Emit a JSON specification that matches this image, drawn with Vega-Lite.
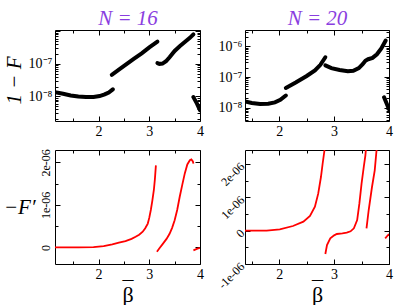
{
  "$schema": "https://vega.github.io/schema/vega-lite/v6.json",
  "padding": {"left": 2, "top": 6, "right": 2, "bottom": 2},
  "background": "white",
  "config": {
    "font": "Liberation Serif",
    "view": {"stroke": "black", "strokeWidth": 1},
    "axis": {"domain": false, "grid": false, "minExtent": 0, "labelFont": "Liberation Serif", "labelFontSize": 14, "labelColor": "black", "tickColor": "black", "tickWidth": 1, "titleFont": "Liberation Serif", "titleFontWeight": "normal", "titleColor": "black", "labelFlush": false, "labelOverlap": false, "labelBound": false},
    "axisX": {"minExtent": 0},
    "axisY": {"minExtent": 0}
  },
  "datasets": {
    "f16": [
      {"x": 1.14, "v": 1.35e-8, "s": 1}, {"x": 1.3, "v": 1.2e-8, "s": 1}, {"x": 1.45, "v": 1.07e-8, "s": 1}, {"x": 1.6, "v": 9.9e-9, "s": 1}, {"x": 1.75, "v": 9.5e-9, "s": 1}, {"x": 1.9, "v": 9.6e-9, "s": 1}, {"x": 2.02, "v": 1.02e-8, "s": 1}, {"x": 2.12, "v": 1.15e-8, "s": 1}, {"x": 2.2, "v": 1.32e-8, "s": 1}, {"x": 2.28, "v": 1.65e-8, "s": 1},
      {"x": 2.26, "v": 4.6e-8, "s": 2}, {"x": 2.4, "v": 6.6e-8, "s": 2}, {"x": 2.55, "v": 9.8e-8, "s": 2}, {"x": 2.7, "v": 1.44e-7, "s": 2}, {"x": 2.85, "v": 2.1e-7, "s": 2}, {"x": 3.0, "v": 3.2e-7, "s": 2}, {"x": 3.16, "v": 4.8e-7, "s": 2},
      {"x": 3.16, "v": 1.06e-7, "s": 3}, {"x": 3.2, "v": 1.0e-7, "s": 3}, {"x": 3.26, "v": 1.02e-7, "s": 3}, {"x": 3.33, "v": 1.2e-7, "s": 3}, {"x": 3.4, "v": 1.6e-7, "s": 3}, {"x": 3.5, "v": 2.5e-7, "s": 3}, {"x": 3.6, "v": 3.5e-7, "s": 3}, {"x": 3.7, "v": 4.7e-7, "s": 3}, {"x": 3.8, "v": 6.3e-7, "s": 3}, {"x": 3.87, "v": 8.1e-7, "s": 3},
      {"x": 3.87, "v": 9.5e-9, "s": 4}, {"x": 3.94, "v": 6e-9, "s": 4}, {"x": 4.0, "v": 3.8e-9, "s": 4}
    ],
    "f20": [
      {"x": 1.376, "v": 1.6e-8, "s": 1}, {"x": 1.5, "v": 1.42e-8, "s": 1}, {"x": 1.65, "v": 1.32e-8, "s": 1}, {"x": 1.8, "v": 1.35e-8, "s": 1}, {"x": 1.92, "v": 1.5e-8, "s": 1}, {"x": 2.02, "v": 1.8e-8, "s": 1}, {"x": 2.12, "v": 2.5e-8, "s": 1},
      {"x": 2.12, "v": 4.4e-8, "s": 2}, {"x": 2.3, "v": 6.6e-8, "s": 2}, {"x": 2.5, "v": 1.08e-7, "s": 2}, {"x": 2.65, "v": 1.65e-7, "s": 2}, {"x": 2.75, "v": 2.5e-7, "s": 2}, {"x": 2.84, "v": 4.4e-7, "s": 2},
      {"x": 2.84, "v": 2.4e-7, "s": 3}, {"x": 2.95, "v": 1.95e-7, "s": 3}, {"x": 3.1, "v": 1.7e-7, "s": 3}, {"x": 3.25, "v": 1.55e-7, "s": 3}, {"x": 3.35, "v": 1.6e-7, "s": 3}, {"x": 3.45, "v": 1.95e-7, "s": 3}, {"x": 3.52, "v": 2.6e-7, "s": 3}, {"x": 3.57, "v": 3.4e-7, "s": 3}, {"x": 3.62, "v": 3.8e-7, "s": 3}, {"x": 3.7, "v": 4.2e-7, "s": 3}, {"x": 3.78, "v": 5.5e-7, "s": 3}, {"x": 3.86, "v": 8.5e-7, "s": 3}, {"x": 3.94, "v": 1.55e-6, "s": 3},
      {"x": 3.91, "v": 2.2e-8, "s": 4}, {"x": 4.0, "v": 9e-9, "s": 4}
    ],
    "d16": [
      {"x": 1.14, "v": 0, "s": 1}, {"x": 1.6, "v": 0, "s": 1}, {"x": 1.9, "v": 5e-9, "s": 1}, {"x": 2.1, "v": 3e-8, "s": 1}, {"x": 2.27, "v": 7e-8, "s": 1}, {"x": 2.4, "v": 1.1e-7, "s": 1}, {"x": 2.53, "v": 1.5e-7, "s": 1}, {"x": 2.65, "v": 2e-7, "s": 1}, {"x": 2.73, "v": 2.5e-7, "s": 1}, {"x": 2.8, "v": 3e-7, "s": 1}, {"x": 2.87, "v": 3.7e-7, "s": 1}, {"x": 2.92, "v": 4.5e-7, "s": 1}, {"x": 2.97, "v": 5.6e-7, "s": 1}, {"x": 3.0, "v": 7e-7, "s": 1}, {"x": 3.03, "v": 8.8e-7, "s": 1}, {"x": 3.06, "v": 1.1e-6, "s": 1}, {"x": 3.09, "v": 1.35e-6, "s": 1}, {"x": 3.11, "v": 1.6e-6, "s": 1}, {"x": 3.13, "v": 1.93e-6, "s": 1},
      {"x": 3.15, "v": -1e-7, "s": 2}, {"x": 3.2, "v": -2e-8, "s": 2}, {"x": 3.27, "v": 9e-8, "s": 2}, {"x": 3.34, "v": 2e-7, "s": 2}, {"x": 3.4, "v": 3.2e-7, "s": 2}, {"x": 3.45, "v": 4.6e-7, "s": 2}, {"x": 3.5, "v": 6.4e-7, "s": 2}, {"x": 3.55, "v": 8.8e-7, "s": 2}, {"x": 3.6, "v": 1.19e-6, "s": 2}, {"x": 3.65, "v": 1.47e-6, "s": 2}, {"x": 3.7, "v": 1.74e-6, "s": 2}, {"x": 3.75, "v": 1.95e-6, "s": 2}, {"x": 3.8, "v": 2.05e-6, "s": 2}, {"x": 3.83, "v": 2.07e-6, "s": 2}, {"x": 3.86, "v": 2.02e-6, "s": 2}, {"x": 3.87, "v": 1.97e-6, "s": 2},
      {"x": 3.87, "v": -7e-8, "s": 3}, {"x": 3.95, "v": -3e-8, "s": 3}, {"x": 4.0, "v": -1e-8, "s": 3}
    ],
    "d20": [
      {"x": 1.376, "v": 0, "s": 1}, {"x": 1.77, "v": 0, "s": 1}, {"x": 2.01, "v": 4e-8, "s": 1}, {"x": 2.25, "v": 1.4e-7, "s": 1}, {"x": 2.44, "v": 2.7e-7, "s": 1}, {"x": 2.56, "v": 4.4e-7, "s": 1}, {"x": 2.65, "v": 7.2e-7, "s": 1}, {"x": 2.71, "v": 1.11e-6, "s": 1}, {"x": 2.76, "v": 1.61e-6, "s": 1}, {"x": 2.79, "v": 2.0e-6, "s": 1}, {"x": 2.82, "v": 2.36e-6, "s": 1}, {"x": 2.83, "v": 2.5e-6, "s": 1},
      {"x": 2.84, "v": -7e-7, "s": 2}, {"x": 2.87, "v": -4.3e-7, "s": 2}, {"x": 2.93, "v": -2.3e-7, "s": 2}, {"x": 3.0, "v": -1.4e-7, "s": 2}, {"x": 3.05, "v": -1e-7, "s": 2}, {"x": 3.15, "v": -8e-8, "s": 2}, {"x": 3.23, "v": -6e-8, "s": 2}, {"x": 3.3, "v": -2e-8, "s": 2}, {"x": 3.36, "v": 7e-8, "s": 2}, {"x": 3.42, "v": 3.2e-7, "s": 2}, {"x": 3.46, "v": 8.1e-7, "s": 2}, {"x": 3.5, "v": 1.41e-6, "s": 2}, {"x": 3.54, "v": 1.91e-6, "s": 2}, {"x": 3.57, "v": 2.26e-6, "s": 2}, {"x": 3.58, "v": 2.45e-6, "s": 2},
      {"x": 3.59, "v": 7e-8, "s": 3}, {"x": 3.63, "v": 6.2e-7, "s": 3}, {"x": 3.69, "v": 1.31e-6, "s": 3}, {"x": 3.74, "v": 1.81e-6, "s": 3}, {"x": 3.77, "v": 2.36e-6, "s": 3}, {"x": 3.78, "v": 2.5e-6, "s": 3},
      {"x": 3.93, "v": -2.3e-7, "s": 4}, {"x": 4.0, "v": -1e-7, "s": 4}
    ]
  },
  "columns": 2,
  "bounds": "flush",
  "spacing": {"row": 29, "column": 45},
  "concat": [
    {
      "width": 145, "height": 91,
      "data": {"name": "f16"},
      "layer": [
        {
          "mark": {"type": "line", "color": "black", "strokeWidth": 4, "strokeCap": "round", "clip": true},
          "encoding": {
            "x": {"field": "x", "type": "quantitative", "scale": {"domain": [1.14, 4.0], "nice": false, "zero": false},
                  "axis": {"orient": "bottom", "title": null, "values": [1.5, 2, 2.5, 3, 3.5, 4], "labelExpr": "datum.value % 1 != 0 ? '' : '' + datum.value", "tickSize": {"condition": {"test": "datum.value % 1 != 0", "value": -3}, "value": -5}, "labelPadding": 8}},
            "y": {"field": "v", "type": "quantitative", "scale": {"type": "log", "domain": [1.75e-9, 1.1e-6], "nice": false},
                  "axis": {"orient": "left", "values": [2e-9, 3e-9, 4e-9, 5e-9, 6e-9, 7e-9, 8e-9, 9e-9, 1e-8, 2e-8, 3e-8, 4e-8, 5e-8, 6e-8, 7e-8, 8e-8, 9e-8, 1e-7, 2e-7, 3e-7, 4e-7, 5e-7, 6e-7, 7e-7, 8e-7, 9e-7, 1e-6],
                           "labelExpr": "abs(datum.value - 1e-8) < 1e-12 ? '10⁻⁸' : (abs(datum.value - 1e-7) < 1e-11 ? '10⁻⁷' : '')",
                           "tickSize": {"condition": {"test": "abs(log(datum.value)/LN10 - round(log(datum.value)/LN10)) > 0.001", "value": -3}, "value": -5},
                           "labelPadding": 8,
                           "title": "1 − F", "titleFontSize": 21, "titleFontStyle": "italic", "titleAngle": -90, "titleX": -41, "titleY": 50, "titleAlign": "center", "titleBaseline": "middle"}},
            "detail": {"field": "s"}
          }
        },
        {
          "mark": {"type": "line", "opacity": 0, "clip": true},
          "encoding": {
            "x": {"field": "x", "type": "quantitative", "axis": {"orient": "top", "labels": false, "values": [1.5, 2, 2.5, 3, 3.5, 4], "tickSize": {"condition": {"test": "datum.value % 1 != 0", "value": -3}, "value": -5},
                  "title": "N = 16", "titleColor": "#8a3ee0", "titleFontSize": 21, "titleFontStyle": "italic", "titleX": 72.5, "titleY": -6, "titleAlign": "center", "titleBaseline": "alphabetic"}},
            "y": {"field": "v", "type": "quantitative", "axis": {"orient": "right", "title": null, "labels": false, "values": [2e-9, 3e-9, 4e-9, 5e-9, 6e-9, 7e-9, 8e-9, 9e-9, 1e-8, 2e-8, 3e-8, 4e-8, 5e-8, 6e-8, 7e-8, 8e-8, 9e-8, 1e-7, 2e-7, 3e-7, 4e-7, 5e-7, 6e-7, 7e-7, 8e-7, 9e-7, 1e-6], "tickSize": {"condition": {"test": "abs(log(datum.value)/LN10 - round(log(datum.value)/LN10)) > 0.001", "value": -3}, "value": -5}}},
            "detail": {"field": "s"}
          }
        }
      ],
      "resolve": {"axis": {"x": "independent", "y": "independent"}}
    },
    {
      "width": 144, "height": 91,
      "data": {"name": "f20"},
      "layer": [
        {
          "mark": {"type": "line", "color": "black", "strokeWidth": 4, "strokeCap": "round", "clip": true},
          "encoding": {
            "x": {"field": "x", "type": "quantitative", "scale": {"domain": [1.376, 4.0], "nice": false, "zero": false},
                  "axis": {"orient": "bottom", "title": null, "values": [1.5, 2, 2.5, 3, 3.5, 4], "labelExpr": "datum.value % 1 != 0 ? '' : '' + datum.value", "tickSize": {"condition": {"test": "datum.value % 1 != 0", "value": -3}, "value": -5}, "labelPadding": 8}},
            "y": {"field": "v", "type": "quantitative", "scale": {"type": "log", "domain": [3.7e-9, 3.4e-6], "nice": false},
                  "axis": {"orient": "left", "title": null, "values": [4e-9, 5e-9, 6e-9, 7e-9, 8e-9, 9e-9, 1e-8, 2e-8, 3e-8, 4e-8, 5e-8, 6e-8, 7e-8, 8e-8, 9e-8, 1e-7, 2e-7, 3e-7, 4e-7, 5e-7, 6e-7, 7e-7, 8e-7, 9e-7, 1e-6, 2e-6, 3e-6],
                           "labelExpr": "abs(datum.value - 1e-8) < 1e-12 ? '10⁻⁸' : (abs(datum.value - 1e-7) < 1e-11 ? '10⁻⁷' : (abs(datum.value - 1e-6) < 1e-10 ? '10⁻⁶' : ''))",
                           "tickSize": {"condition": {"test": "abs(log(datum.value)/LN10 - round(log(datum.value)/LN10)) > 0.001", "value": -3}, "value": -5},
                           "labelPadding": 8}},
            "detail": {"field": "s"}
          }
        },
        {
          "mark": {"type": "line", "opacity": 0, "clip": true},
          "encoding": {
            "x": {"field": "x", "type": "quantitative", "axis": {"orient": "top", "labels": false, "values": [1.5, 2, 2.5, 3, 3.5, 4], "tickSize": {"condition": {"test": "datum.value % 1 != 0", "value": -3}, "value": -5},
                  "title": "N = 20", "titleColor": "#8a3ee0", "titleFontSize": 21, "titleFontStyle": "italic", "titleX": 72, "titleY": -6, "titleAlign": "center", "titleBaseline": "alphabetic"}},
            "y": {"field": "v", "type": "quantitative", "axis": {"orient": "right", "title": null, "labels": false, "values": [4e-9, 5e-9, 6e-9, 7e-9, 8e-9, 9e-9, 1e-8, 2e-8, 3e-8, 4e-8, 5e-8, 6e-8, 7e-8, 8e-8, 9e-8, 1e-7, 2e-7, 3e-7, 4e-7, 5e-7, 6e-7, 7e-7, 8e-7, 9e-7, 1e-6, 2e-6, 3e-6], "tickSize": {"condition": {"test": "abs(log(datum.value)/LN10 - round(log(datum.value)/LN10)) > 0.001", "value": -3}, "value": -5}}},
            "detail": {"field": "s"}
          }
        }
      ],
      "resolve": {"axis": {"x": "independent", "y": "independent"}}
    },
    {
      "width": 145, "height": 114,
      "data": {"name": "d16"},
      "layer": [
        {
          "mark": {"type": "line", "color": "#ff0000", "strokeWidth": 1.8, "clip": true},
          "encoding": {
            "x": {"field": "x", "type": "quantitative", "scale": {"domain": [1.14, 4.0], "nice": false, "zero": false},
                  "axis": {"orient": "bottom", "title": ["¯", "β"], "titleFontSize": 22, "titleLineHeight": 6, "titleBaseline": "bottom", "titleX": 72.5, "titleY": 36, "titleAlign": "center", "values": [1.5, 2, 2.5, 3, 3.5, 4], "labelExpr": "datum.value % 1 != 0 ? '' : '' + datum.value", "tickSize": {"condition": {"test": "datum.value % 1 != 0", "value": -3}, "value": -5}, "labelPadding": 8}},
            "y": {"field": "v", "type": "quantitative", "scale": {"domain": [-3.9e-7, 2.29e-6], "nice": false, "zero": false},
                  "axis": {"orient": "left", "values": [0, 5e-7, 1e-6, 1.5e-6, 2e-6],
                           "labelExpr": "abs(datum.value*1e6 - round(datum.value*1e6)) > 0.01 ? '' : (datum.value == 0 ? '0' : (round(datum.value*1e6) + 'e-06'))",
                           "labelAngle": -90, "labelAlign": "center", "labelBaseline": "bottom", "labelFontSize": 12,
                           "tickSize": {"condition": {"test": "abs(datum.value*1e6 - round(datum.value*1e6)) > 0.01", "value": -3}, "value": -5},
                           "labelPadding": 8,
                           "title": "−F′", "titleFontSize": 21, "titleFontStyle": "italic", "titleAngle": 0, "titleX": -20, "titleY": 57, "titleAlign": "right", "titleBaseline": "middle"}},
            "detail": {"field": "s"}
          }
        },
        {
          "mark": {"type": "line", "opacity": 0, "clip": true},
          "encoding": {
            "x": {"field": "x", "type": "quantitative", "axis": {"orient": "top", "title": null, "labels": false, "values": [1.5, 2, 2.5, 3, 3.5, 4], "tickSize": {"condition": {"test": "datum.value % 1 != 0", "value": -3}, "value": -5}}},
            "y": {"field": "v", "type": "quantitative", "axis": {"orient": "right", "title": null, "labels": false, "values": [0, 5e-7, 1e-6, 1.5e-6, 2e-6], "tickSize": {"condition": {"test": "abs(datum.value*1e6 - round(datum.value*1e6)) > 0.01", "value": -3}, "value": -5}}},
            "detail": {"field": "s"}
          }
        }
      ],
      "resolve": {"axis": {"x": "independent", "y": "independent"}}
    },
    {
      "width": 144, "height": 114,
      "data": {"name": "d20"},
      "layer": [
        {
          "mark": {"type": "line", "color": "#ff0000", "strokeWidth": 1.8, "clip": true},
          "encoding": {
            "x": {"field": "x", "type": "quantitative", "scale": {"domain": [1.376, 4.0], "nice": false, "zero": false},
                  "axis": {"orient": "bottom", "title": ["¯", "β"], "titleFontSize": 22, "titleLineHeight": 6, "titleBaseline": "bottom", "titleX": 72, "titleY": 36, "titleAlign": "center", "values": [1.5, 2, 2.5, 3, 3.5, 4], "labelExpr": "datum.value % 1 != 0 ? '' : '' + datum.value", "tickSize": {"condition": {"test": "datum.value % 1 != 0", "value": -3}, "value": -5}, "labelPadding": 8}},
            "y": {"field": "v", "type": "quantitative", "scale": {"domain": [-1e-6, 2.42e-6], "nice": false, "zero": false},
                  "axis": {"orient": "left", "title": null, "values": [-1e-6, -5e-7, 0, 5e-7, 1e-6, 1.5e-6, 2e-6],
                           "labelExpr": "abs(datum.value*1e6 - round(datum.value*1e6)) > 0.01 ? '' : (datum.value == 0 ? '0' : (round(datum.value*1e6) + 'e-06'))",
                           "labelAngle": -45, "labelAlign": "right", "labelBaseline": "middle", "labelFontSize": 12,
                           "tickSize": {"condition": {"test": "abs(datum.value*1e6 - round(datum.value*1e6)) > 0.01", "value": -3}, "value": -5},
                           "labelPadding": 8}},
            "detail": {"field": "s"}
          }
        },
        {
          "mark": {"type": "line", "opacity": 0, "clip": true},
          "encoding": {
            "x": {"field": "x", "type": "quantitative", "axis": {"orient": "top", "title": null, "labels": false, "values": [1.5, 2, 2.5, 3, 3.5, 4], "tickSize": {"condition": {"test": "datum.value % 1 != 0", "value": -3}, "value": -5}}},
            "y": {"field": "v", "type": "quantitative", "axis": {"orient": "right", "title": null, "labels": false, "values": [-1e-6, -5e-7, 0, 5e-7, 1e-6, 1.5e-6, 2e-6], "tickSize": {"condition": {"test": "abs(datum.value*1e6 - round(datum.value*1e6)) > 0.01", "value": -3}, "value": -5}}},
            "detail": {"field": "s"}
          }
        }
      ],
      "resolve": {"axis": {"x": "independent", "y": "independent"}}
    }
  ]
}
